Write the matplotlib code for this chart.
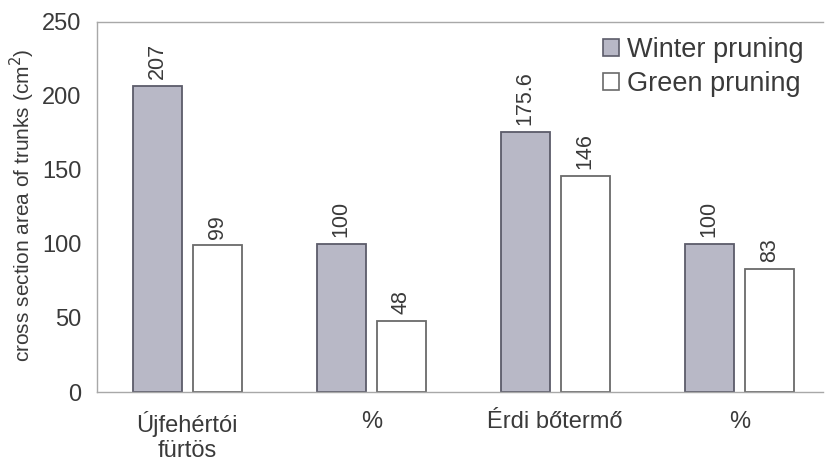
import matplotlib
matplotlib.use("Agg")
import matplotlib.pyplot as plt
import numpy as np
from matplotlib.patches import Patch

categories = ["Újfehértói\nfürtös", "%", "Érdi bőtermő", "%"]
winter = [207, 100, 175.6, 100]
green = [99, 48, 146, 83]
winter_labels = ["207", "100", "175.6", "100"]
green_labels = ["99", "48", "146", "83"]
series_names = ["Winter pruning", "Green pruning"]
yticks = [0, 50, 100, 150, 200, 250]

plt.rcParams['font.family'] = ['Liberation Sans', 'DejaVu Sans']
txt = '#3a3a3a'

fig = plt.figure(figsize=(8.25, 4.61), dpi=100)
ax = fig.add_axes([97/825, 69/461, (823-97)/825, (392-22)/461])

x = np.arange(len(categories))
w = 0.266
off = 0.163
ax.bar(x - off, winter, w, color='#b8b8c6', edgecolor='#5c5c6a', linewidth=1.3)
ax.bar(x + off, green, w, color='white', edgecolor='#6a6a6a', linewidth=1.3)

for xi, v, s in zip(x - off, winter, winter_labels):
    ax.annotate(s, (xi, v), xytext=(0, 5), textcoords='offset points', rotation=90,
                ha='center', va='bottom', fontsize=15.5, color=txt)
for xi, v, s in zip(x + off, green, green_labels):
    ax.annotate(s, (xi, v), xytext=(0, 5), textcoords='offset points', rotation=90,
                ha='center', va='bottom', fontsize=15.5, color=txt)

ax.set_xlim(-0.49, 3.455)
ax.set_ylim(0, 250)
ax.set_yticks(yticks)
ax.set_yticklabels([str(t) for t in yticks], fontsize=17, color=txt)
ax.set_xticks(x)
ax.set_xticklabels(categories, fontsize=17, color=txt, linespacing=1.15)
ax.tick_params(axis='y', length=0, pad=11)
ax.tick_params(axis='x', length=0, pad=14)

for sp in ['left', 'top', 'bottom']:
    ax.spines[sp].set_color('#a8a8a8')
    ax.spines[sp].set_linewidth(1.0)
ax.spines['right'].set_visible(False)

ax.set_ylabel("cross section area of trunks (cm$^2$)", fontsize=15, color=txt)
ax.yaxis.set_label_coords(-0.082, 0.505)

handles = [Patch(facecolor='#b8b8c6', edgecolor='#5c5c6a', linewidth=1.2),
           Patch(facecolor='white', edgecolor='#6a6a6a', linewidth=1.2)]
ax.legend(handles, series_names, loc='upper right', bbox_to_anchor=(1.0, 1.01),
          frameon=False, fontsize=19.5, handlelength=0.6, handleheight=0.6,
          handletextpad=0.3, labelspacing=0.28, labelcolor=txt, borderaxespad=0.3)

fig.savefig("out.png", dpi=100)
